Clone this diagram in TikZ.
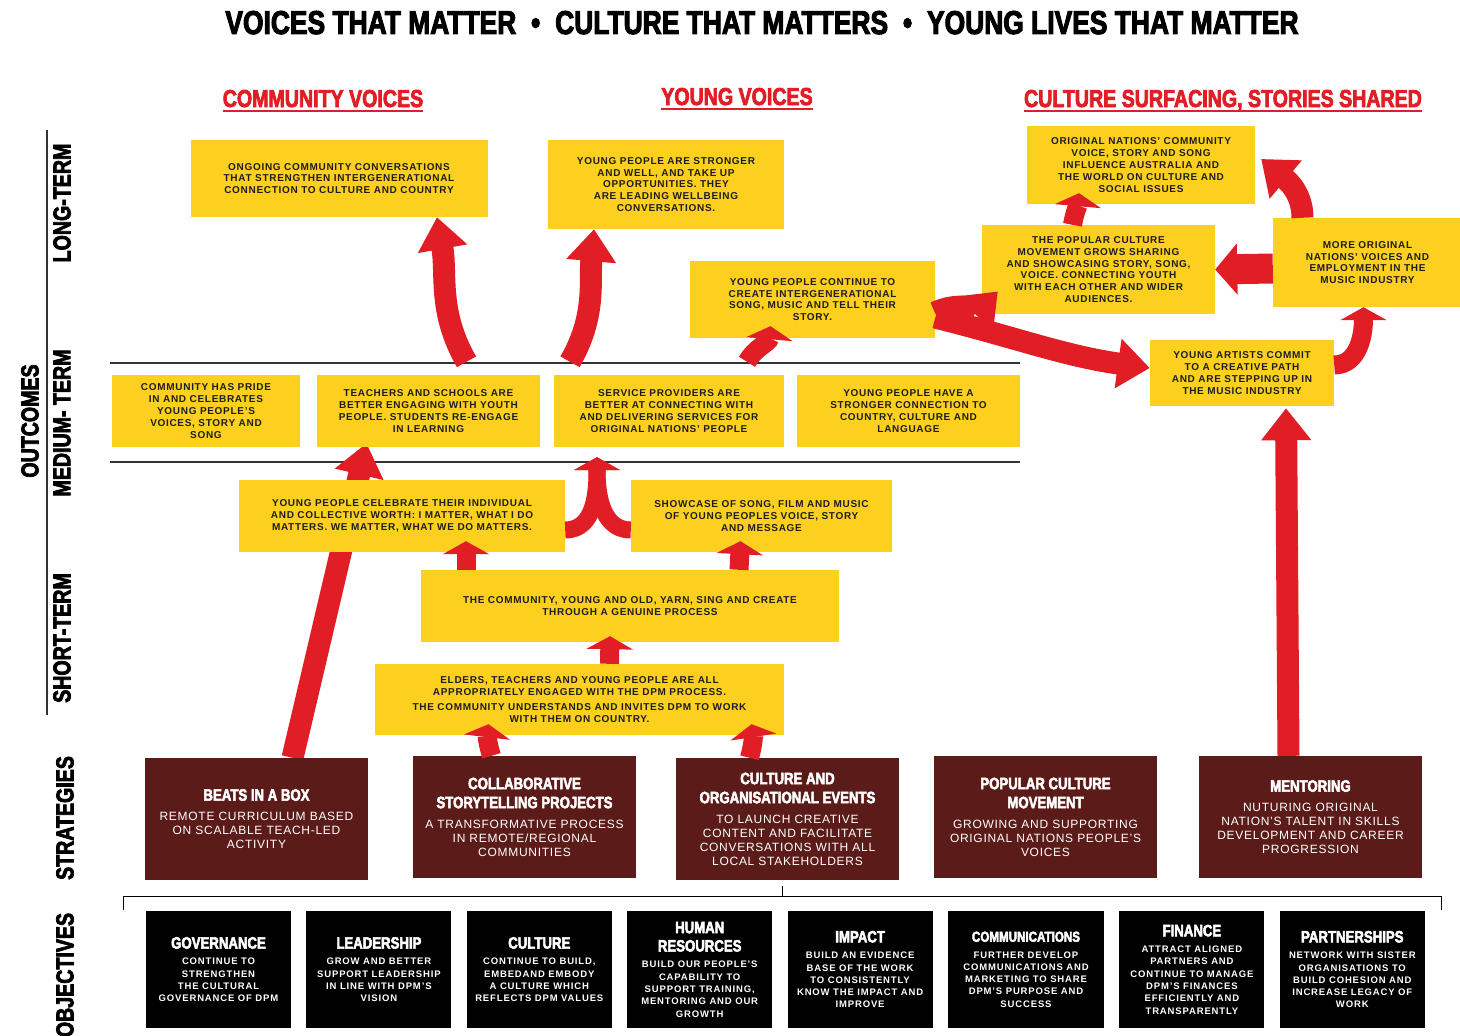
\documentclass[tikz,border=0pt]{standalone}
\usepackage{fontspec}
\usepackage{xcolor}
\setmainfont{Liberation Sans}
\newfontfamily\headfont[FakeStretch=0.8,FakeBold=3]{Liberation Sans}
\newfontfamily\boxfont[LetterSpace=7]{Liberation Sans}
\newfontfamily\stratfont[LetterSpace=6]{Liberation Sans}
\newfontfamily\objfont[LetterSpace=9]{Liberation Sans}
\usetikzlibrary{positioning,arrows.meta,backgrounds,calc}
\definecolor{boxyellow}{HTML}{FDD01F}
\definecolor{arrowred}{HTML}{E11D25}
\definecolor{stratbrown}{HTML}{5B1C19}
\definecolor{textdark}{HTML}{1E1E1E}
\definecolor{rulegrey}{HTML}{333333}
\newcommand{\boxhead}[1]{{\headfont\bfseries\fontsize{16.5}{18}\selectfont #1}}
\tikzset{
  tallarrow/.style={draw=arrowred, line width=22pt, -{Triangle[width=48pt,length=32pt]}},
  flatarrow/.style={draw=arrowred, line width=19pt, -{Triangle[width=46pt,length=13pt]}},
  rulerline/.style={draw=rulegrey, line width=1.6pt},
}
\begin{document}
\begin{tikzpicture}[x=1pt,y=-1pt,node distance=15pt]
  \tikzset{
      outcome/.style={rectangle, fill=boxyellow, text=textdark, align=center, inner sep=3pt, font=\boxfont\bfseries\fontsize{10}{11.8}\selectfont},
      strategy/.style={rectangle, fill=stratbrown, text=white, align=center, minimum width=223pt, minimum height=122pt, inner sep=3pt, font=\stratfont\fontsize{12}{14}\selectfont},
      objective/.style={rectangle, fill=black, text=white, align=center, minimum width=145pt, minimum height=117pt, inner sep=2pt, font=\objfont\bfseries\fontsize{9.5}{12.3}\selectfont},
      heading/.style={anchor=base, text=arrowred, inner sep=0pt, font=\headfont\bfseries\fontsize{24.5}{24}\selectfont},
      sidelabel/.style={rotate=90, inner sep=0pt, font=\headfont\bfseries\fontsize{24.5}{24}\selectfont},
      underl/.style={draw=arrowred, line width=2.6pt},
  }
  \useasboundingbox (0,0) rectangle (1460,1036);

  \node[anchor=base, inner sep=0pt, font=\headfont\bfseries\fontsize{33}{33}\selectfont] (title) at (762,34) {VOICES THAT MATTER\hspace{0.45em}•\hspace{0.45em}CULTURE THAT MATTERS\hspace{0.45em}•\hspace{0.45em}YOUNG LIVES THAT MATTER};

  \node[heading] (headA) at (323,107) {COMMUNITY VOICES};
  \node[heading] (headB) at (737,105) {YOUNG VOICES};
  \node[heading] (headC) at (1223,107) {CULTURE SURFACING, STORIES SHARED};
  \draw[underl] ([yshift=-4pt]headA.base west) -- ([yshift=-4pt]headA.base east);
  \draw[underl] ([yshift=-4pt]headB.base west) -- ([yshift=-4pt]headB.base east);
  \draw[underl] ([yshift=-4pt]headC.base west) -- ([yshift=-4pt]headC.base east);

  \node[sidelabel] (lblLong) at (62,203) {LONG-TERM};
  \node[sidelabel] (lblMedium) at (62,423) {MEDIUM- TERM};
  \node[sidelabel] (lblShort) at (62,638) {SHORT-TERM};
  \node[sidelabel] (lblOutcomes) at (30,421) {OUTCOMES};
  \node[sidelabel] (lblStrategies) at (65,818) {STRATEGIES};
  \node[sidelabel] (lblObjectives) at (65,975) {OBJECTIVES};

  % long-term
  \node[outcome, minimum width=297pt, minimum height=77pt] (long1) at (339,178.5) {ONGOING COMMUNITY CONVERSATIONS\\THAT STRENGTHEN INTERGENERATIONAL\\CONNECTION TO CULTURE AND COUNTRY};
  \node[outcome, minimum width=236pt, minimum height=89pt] (long2) at (666,184.5) {YOUNG PEOPLE ARE STRONGER\\AND WELL, AND TAKE UP\\OPPORTUNITIES. THEY\\ARE LEADING WELLBEING\\CONVERSATIONS.};
  \node[outcome, minimum width=245pt, minimum height=77pt] (long3) at (812.5,299.5) {YOUNG PEOPLE CONTINUE TO\\CREATE INTERGENERATIONAL\\SONG, MUSIC AND TELL THEIR\\STORY.};
  \node[outcome, minimum width=228pt, minimum height=78pt] (cult1) at (1141,165) {ORIGINAL NATIONS’ COMMUNITY\\VOICE, STORY AND SONG\\INFLUENCE AUSTRALIA AND\\THE WORLD ON CULTURE AND\\SOCIAL ISSUES};
  \node[outcome, minimum width=233pt, minimum height=89pt] (cult2) at (1098.5,269.5) {THE POPULAR CULTURE\\MOVEMENT GROWS SHARING\\AND SHOWCASING STORY, SONG,\\VOICE. CONNECTING YOUTH\\WITH EACH OTHER AND WIDER\\AUDIENCES.};
  \node[outcome, minimum width=189pt, minimum height=89pt] (cult3) at (1367.5,262.5) {MORE ORIGINAL\\NATIONS’ VOICES AND\\EMPLOYMENT IN THE\\MUSIC INDUSTRY};
  \node[outcome, minimum width=184pt, minimum height=66pt] (cult4) at (1242,373) {YOUNG ARTISTS COMMIT\\TO A CREATIVE PATH\\AND ARE STEPPING UP IN\\THE MUSIC INDUSTRY};

  % medium-term
  \node[outcome, minimum width=188pt, minimum height=72pt] (med1) at (206,411) {COMMUNITY HAS PRIDE\\IN AND CELEBRATES\\YOUNG PEOPLE’S\\VOICES, STORY AND\\SONG};
  \node[outcome, minimum width=223pt, minimum height=72pt] (med2) at (428.5,411) {TEACHERS AND SCHOOLS ARE\\BETTER ENGAGING WITH YOUTH\\PEOPLE. STUDENTS RE-ENGAGE\\IN LEARNING};
  \node[outcome, minimum width=230pt, minimum height=72pt] (med3) at (669,411) {SERVICE PROVIDERS ARE\\BETTER AT CONNECTING WITH\\AND DELIVERING SERVICES FOR\\ORIGINAL NATIONS’ PEOPLE};
  \node[outcome, minimum width=223pt, minimum height=72pt] (med4) at (908.5,411) {YOUNG PEOPLE HAVE A\\STRONGER CONNECTION TO\\COUNTRY, CULTURE AND\\LANGUAGE};

  % short-term
  \node[outcome, minimum width=326pt, minimum height=72pt] (short1) at (402,516) {YOUNG PEOPLE CELEBRATE THEIR INDIVIDUAL\\AND COLLECTIVE WORTH: I MATTER, WHAT I DO\\MATTERS. WE MATTER, WHAT WE DO MATTERS.};
  \node[outcome, minimum width=261pt, minimum height=72pt] (short2) at (761.5,516) {SHOWCASE OF SONG, FILM AND MUSIC\\OF YOUNG PEOPLES VOICE, STORY\\AND MESSAGE};
  \node[outcome, minimum width=418pt, minimum height=72pt] (short3) at (630,606) {THE COMMUNITY, YOUNG AND OLD, YARN, SING AND CREATE\\THROUGH A GENUINE PROCESS};
  \node[outcome, minimum width=409pt, minimum height=71pt] (short4) at (579.5,699.5) {ELDERS, TEACHERS AND YOUNG PEOPLE ARE ALL\\APPROPRIATELY ENGAGED WITH THE DPM PROCESS.\\[4pt]THE COMMUNITY UNDERSTANDS AND INVITES DPM TO WORK\\WITH THEM ON COUNTRY.};

  % strategies
  \node[strategy] (strat1) at (256.5,819) {\boxhead{BEATS IN A BOX}\\[6pt]REMOTE CURRICULUM BASED\\ON SCALABLE TEACH-LED\\ACTIVITY};
  \node[strategy] (strat2) at (524.5,817) {\boxhead{COLLABORATIVE}\\[5pt]\boxhead{STORYTELLING PROJECTS}\\[6pt]A TRANSFORMATIVE PROCESS\\IN REMOTE/REGIONAL\\COMMUNITIES};
  \node[strategy] (strat3) at (787.5,819) {\boxhead{CULTURE AND}\\[5pt]\boxhead{ORGANISATIONAL EVENTS}\\[6pt]TO LAUNCH CREATIVE\\CONTENT AND FACILITATE\\CONVERSATIONS WITH ALL\\LOCAL STAKEHOLDERS};
  \node[strategy] (strat4) at (1045.5,817) {\boxhead{POPULAR CULTURE}\\[5pt]\boxhead{MOVEMENT}\\[6pt]GROWING AND SUPPORTING\\ORIGINAL NATIONS PEOPLE’S\\VOICES};
  \node[strategy] (strat5) at (1310.5,817) {\boxhead{MENTORING}\\[6pt]NUTURING ORIGINAL\\NATION’S TALENT IN SKILLS\\DEVELOPMENT AND CAREER\\PROGRESSION};

  % objectives
  \node[objective] (obj1) at (218.5,969.5) {\boxhead{GOVERNANCE}\\[4pt]CONTINUE TO\\STRENGTHEN\\THE CULTURAL\\GOVERNANCE OF DPM};
  \node[objective, right=of obj1] (obj2) {\boxhead{LEADERSHIP}\\[4pt]GROW AND BETTER\\SUPPORT LEADERSHIP\\IN LINE WITH DPM’S\\VISION};
  \node[objective, right=of obj2] (obj3) {\boxhead{CULTURE}\\[4pt]CONTINUE TO BUILD,\\EMBEDAND EMBODY\\A CULTURE WHICH\\REFLECTS DPM VALUES};
  \node[objective, right=of obj3] (obj4) {\boxhead{HUMAN}\\[6pt]\boxhead{RESOURCES}\\[4pt]BUILD OUR PEOPLE’S\\CAPABILITY TO\\SUPPORT TRAINING,\\MENTORING AND OUR\\GROWTH};
  \node[objective, right=of obj4] (obj5) {\boxhead{IMPACT}\\[4pt]BUILD AN EVIDENCE\\BASE OF THE WORK\\TO CONSISTENTLY\\KNOW THE IMPACT AND\\IMPROVE};
  \node[objective, right=of obj5, minimum width=156pt] (obj6) {{\headfont\bfseries\fontsize{14.5}{16}\selectfont COMMUNICATIONS}\\[4pt]FURTHER DEVELOP\\COMMUNICATIONS AND\\MARKETING TO SHARE\\DPM’S PURPOSE AND\\SUCCESS};
  \node[objective, right=of obj6] (obj7) {\boxhead{FINANCE}\\[4pt]ATTRACT ALIGNED\\PARTNERS AND\\CONTINUE TO MANAGE\\DPM’S FINANCES\\EFFICIENTLY AND\\TRANSPARENTLY};
  \node[objective, right=of obj7] (obj8) {\boxhead{PARTNERSHIPS}\\[4pt]NETWORK WITH SISTER\\ORGANISATIONS TO\\BUILD COHESION AND\\INCREASE LEGACY OF\\WORK};

  \begin{scope}[on background layer]
    \fill[white] (0,0) rectangle (1460,1036);
    \draw[rulerline] (47,130) -- (47,715);
    \draw[rulerline] (110,363) -- (1020,363);
    \draw[rulerline] (110,462) -- (1020,462);
    \draw[tallarrow] ([xshift=36pt]strat1.north) -- ([xshift=-62pt,yshift=4pt]med2.south);
  \end{scope}
  \draw[thin] (123,910) -- (123,896) -- (1441,896) -- (1441,910);
  \draw[thin] (782,896) -- (782,886);

  \draw[tallarrow] ([xshift=38pt,yshift=13pt]med2.north) to[out=120,in=-80] ([xshift=98pt]long1.south);
  \draw[tallarrow] ([xshift=-99pt,yshift=13pt]med3.north) to[out=60,in=-95] ([xshift=-72pt]long2.south);
  \draw[flatarrow] ([xshift=78pt,yshift=13pt]med3.north) to[out=60,in=-95] ([xshift=-42pt,yshift=12pt]long3.south);
  \draw[tallarrow, line width=24pt] ([yshift=-14pt]long3.east) to[out=25,in=225] ([xshift=16pt,yshift=-22pt]cult2.west);
  \draw[tallarrow] ([yshift=-18pt]long3.east) to[out=-14,in=172] ([yshift=5pt]cult4.west);
  \draw[flatarrow] ([yshift=8pt]cult4.east) to[out=0,in=-90] ([xshift=-4pt]cult3.south);
  \draw[tallarrow, line width=30pt, -{Triangle[width=50pt,length=22pt]}] ([yshift=-6pt]cult3.west) -- (cult2.east);
  \draw[tallarrow] ([xshift=-65pt]cult3.north) to[out=90,in=-40] ([xshift=6pt,yshift=6pt]cult1.east);
  \draw[flatarrow] ([xshift=-26pt]cult2.north) to[out=80,in=-95] ([xshift=-62pt,yshift=11pt]cult1.south);
  \draw[tallarrow] ([xshift=-22pt]strat5.north) -- ([xshift=44pt,yshift=-2pt]cult4.south);

  \draw[flatarrow, line width=17pt] ([yshift=-14pt]short1.east) to[out=0,in=-90] ([xshift=-72pt,yshift=-10pt]med3.south);
  \draw[flatarrow, line width=17pt] ([yshift=-14pt]short2.west) to[out=180,in=-90] ([xshift=-72pt,yshift=-10pt]med3.south);
  \draw[flatarrow] ([xshift=-164pt]short3.north) -- ([xshift=64pt,yshift=11pt]short1.south);
  \draw[flatarrow] ([xshift=109pt]short3.north) -- ([xshift=-21pt,yshift=11pt]short2.south);
  \draw[flatarrow] ([xshift=30pt]short4.north) -- ([xshift=-20pt,yshift=6pt]short3.south);
  \draw[flatarrow] ([xshift=-33pt]strat2.north) to[bend left=12] ([xshift=-91pt,yshift=11pt]short4.south);
  \draw[flatarrow] ([xshift=-38pt]strat3.north) to[bend right=12] ([xshift=172pt,yshift=11pt]short4.south);
\end{tikzpicture}
\end{document}
